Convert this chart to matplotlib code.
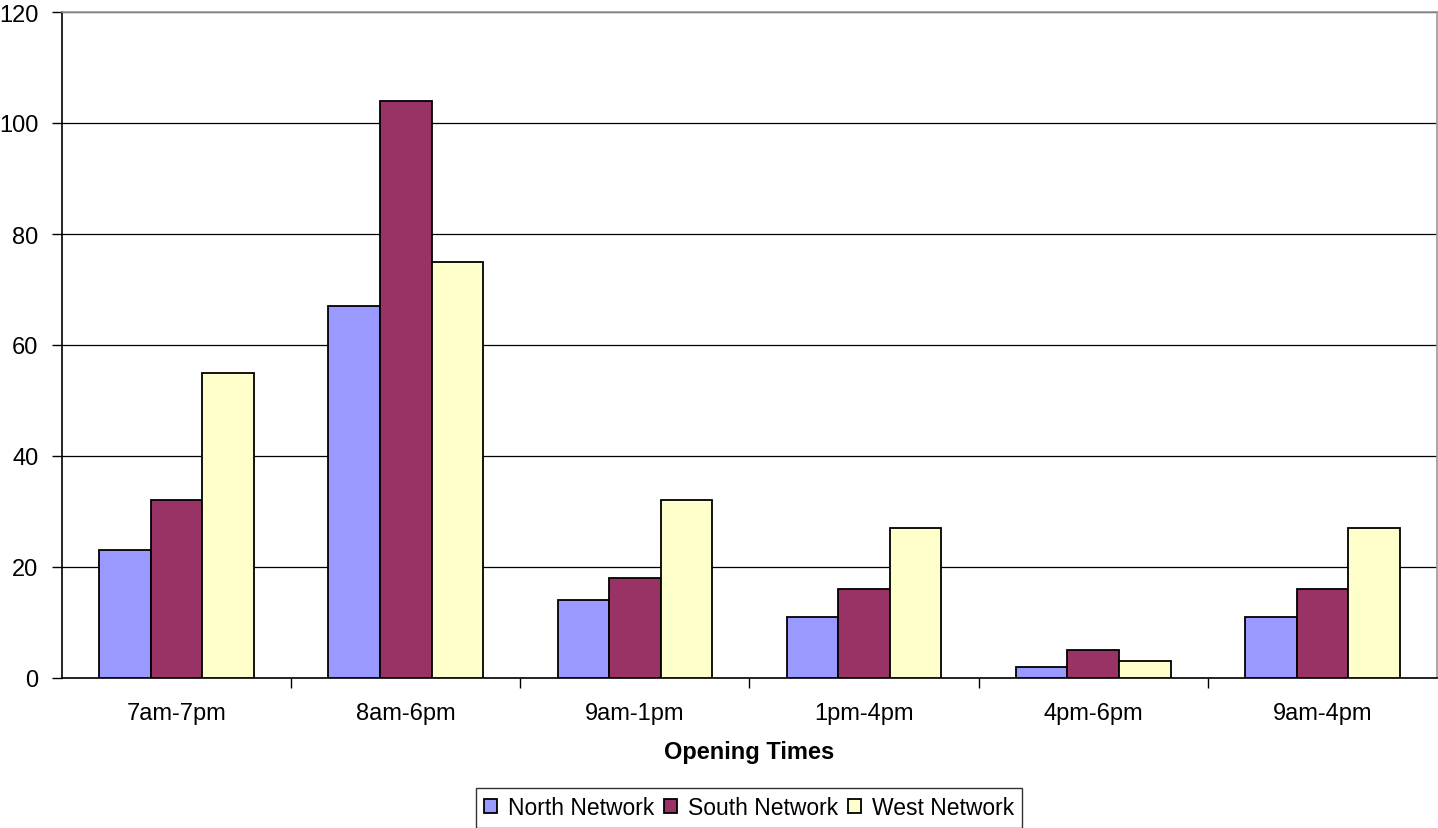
import matplotlib
matplotlib.use("Agg")
import matplotlib.pyplot as plt
import numpy as np

plt.rcParams['font.family'] = ['Liberation Sans', 'DejaVu Sans']

categories = ["7am-7pm", "8am-6pm", "9am-1pm", "1pm-4pm", "4pm-6pm", "9am-4pm"]
series_names = ["North Network", "South Network", "West Network"]
north = [23, 67, 14, 11, 2, 11]
south = [32, 104, 18, 16, 5, 16]
west = [55, 75, 32, 27, 3, 27]
colors = ["#9999FF", "#993366", "#FFFFCC"]

W, H = 1438, 829
fig = plt.figure(figsize=(W / 100, H / 100), dpi=100)
ax = fig.add_axes([62 / W, 1 - 679 / H, (1437 - 62) / W, (679 - 13) / H])

x = np.arange(len(categories))
bw = 0.225
for i, (vals, name, c) in enumerate(zip([north, south, west], series_names, colors)):
    ax.bar(x + (i - 1) * bw, vals, width=bw, color=c, edgecolor="black",
           linewidth=1.3, label=name, zorder=3)

ax.set_xlim(-0.5, len(categories) - 0.5)
ax.set_ylim(0, 120)
ax.set_yticks(np.arange(0, 121, 20))
ax.yaxis.grid(True, color="black", linewidth=0.9, zorder=0)
ax.set_axisbelow(True)

ax.set_xticks(x)
ax.set_xticklabels(categories, fontsize=17)
ax.tick_params(axis="x", length=0, pad=17)
ax.set_xticks(np.arange(0.5, len(categories) - 0.5, 1), minor=True)
ax.tick_params(axis="x", which="minor", length=7, width=1.0, color="black")
ax.tick_params(axis="y", length=7, width=1.0, labelsize=17, pad=10)

for s in ["top", "right"]:
    ax.spines[s].set_color("#999999")
    ax.spines[s].set_linewidth(1.2)
for s in ["left", "bottom"]:
    ax.spines[s].set_color("black")
    ax.spines[s].set_linewidth(1.2)

fig.text(749.5 / W, 1 - 753 / H, "Opening Times", ha="center", va="center",
         fontsize=17, fontweight="bold")

leg = fig.legend(loc="center", bbox_to_anchor=(749 / W, 1 - 809 / H), ncol=3,
                 fontsize=16.5, frameon=True, fancybox=False, handlelength=0.57,
                 handleheight=0.57, handletextpad=0.48, columnspacing=0.44,
                 borderpad=0.35, borderaxespad=0)
leg.get_frame().set_edgecolor("black")
leg.get_frame().set_linewidth(1.0)

fig.savefig("out.png", dpi=100)
